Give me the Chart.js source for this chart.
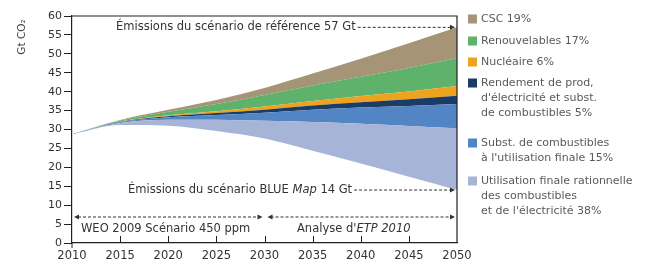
<!DOCTYPE html>
<html>
<head>
<meta charset="utf-8">
<script src="https://cdn.jsdelivr.net/npm/chart.js@4.4.1/dist/chart.umd.min.js"></script>
<style>
html,body{margin:0;padding:0;background:#fff;}
canvas{display:block;}
</style>
</head>
<body>
<canvas id="c" width="653" height="270"></canvas>
<script>
const years = [2010, 2015, 2020, 2025, 2030, 2035, 2040, 2045, 2050];
const blueMap = [28.8, 31.2, 31.0, 29.6, 27.6, 24.4, 21.0, 17.5, 14.0];
const utilisation = [0, 0.55, 1.6, 2.95, 4.7, 7.55, 10.5, 13.4, 16.3];
const substitution = [0, 0.2, 0.67, 1.31, 2.15, 3.26, 4.3, 5.3, 6.45];
const rendement = [0, 0.07, 0.25, 0.49, 0.8, 1.12, 1.4, 1.77, 2.15];
const nucleaire = [0, 0.07, 0.25, 0.49, 0.8, 1.22, 1.65, 2.1, 2.6];
const renouvelables = [0, 0.28, 0.92, 1.89, 3.08, 4.08, 5.1, 6.2, 7.3];
const csc = [0, 0.13, 0.5, 1.07, 1.87, 3.16, 4.75, 6.53, 8.2];

const referenceTotal = 57;
const blueMapTotal = 14;
const periodSplit = 2030;

const legendItems = [
  {lines: ['CSC 19%'], color: '#a59475'},
  {lines: ['Renouvelables 17%'], color: '#5eb26c'},
  {lines: ['Nucléaire 6%'], color: '#eea31f'},
  {lines: ['Rendement de prod,', "d'électricité et subst.", 'de combustibles 5%'], color: '#1c3b66'},
  {lines: ['Subst. de combustibles', "à l'utilisation finale 15%"], color: '#5185c4'},
  {lines: ['Utilisation finale rationnelle', 'des combustibles', "et de l'électricité 38%"], color: '#a6b4d8'}
];
const legendTop = [19, 41, 62, 83, 143, 181];

function pts(arr){ return years.map((y,i)=>({x:y, y:arr[i]})); }

function layer(label, arr, color){
  return {label, data: pts(arr), backgroundColor: color, borderColor: color, borderWidth: 0,
    fill: '-1', pointRadius: 0, cubicInterpolationMode: 'monotone'};
}

const FONT = '"DejaVu Sans", sans-serif';

function arrowHead(ctx, x, y, dir){
  ctx.beginPath();
  ctx.moveTo(x, y);
  ctx.lineTo(x - 5*dir, y - 2.5);
  ctx.lineTo(x - 5*dir, y + 2.5);
  ctx.closePath();
  ctx.fill();
}
function dashed(ctx, x1, x2, y){
  ctx.save();
  ctx.setLineDash([3,2]);
  ctx.beginPath();
  ctx.moveTo(x1, y); ctx.lineTo(x2, y);
  ctx.stroke();
  ctx.restore();
}

const deco = {
  id: 'deco',
  afterDraw(chart){
    const ctx = chart.ctx, a = chart.chartArea, xs = chart.scales.x, ys = chart.scales.y;
    ctx.save();
    // frame
    ctx.strokeStyle = '#222'; ctx.lineWidth = 1.2;
    ctx.beginPath();
    ctx.moveTo(a.left, a.top); ctx.lineTo(a.right, a.top); ctx.lineTo(a.right, a.bottom);
    ctx.stroke();
    // inside x ticks
    ctx.lineWidth = 1;
    for (let yr = 2015; yr < 2050; yr += 5){
      const px = Math.round(xs.getPixelForValue(yr)) + 0.5;
      ctx.beginPath(); ctx.moveTo(px, a.bottom); ctx.lineTo(px, a.bottom - 7); ctx.stroke();
    }
    ctx.beginPath(); ctx.moveTo(a.left, a.bottom); ctx.lineTo(a.left, a.bottom + 5); ctx.stroke();

    ctx.fillStyle = '#333'; ctx.strokeStyle = '#333';
    ctx.textBaseline = 'middle';
    const AF = '11.5px ' + FONT, AFI = 'italic 11.5px ' + FONT;
    ctx.font = AF;
    // reference annotation
    const x50 = xs.getPixelForValue(2050) - 2;
    const yRef = ys.getPixelForValue(referenceTotal);
    ctx.textAlign = 'left';
    const t1 = 'Émissions du scénario de référence 57 Gt';
    ctx.fillText(t1, 116, yRef);
    const w1 = ctx.measureText(t1).width;
    dashed(ctx, 116 + w1 + 2, x50 - 4, yRef);
    arrowHead(ctx, x50, yRef, 1);
    // BLUE Map annotation
    const yBlue = ys.getPixelForValue(blueMapTotal);
    let tx = 128;
    const p1 = 'Émissions du scénario BLUE ';
    ctx.fillText(p1, tx, yBlue); tx += ctx.measureText(p1).width;
    ctx.font = AFI;
    ctx.fillText('Map', tx, yBlue); tx += ctx.measureText('Map').width;
    ctx.font = AF;
    ctx.fillText(' 14 Gt', tx, yBlue); tx += ctx.measureText(' 14 Gt').width;
    dashed(ctx, tx + 2, x50 - 4, yBlue);
    arrowHead(ctx, x50, yBlue, 1);
    // period arrows
    const yP = 217;
    const xL = a.left + 2, xM = xs.getPixelForValue(periodSplit);
    dashed(ctx, xL + 4, xM - 6, yP);
    arrowHead(ctx, xL, yP, -1);
    arrowHead(ctx, xM - 2, yP, 1);
    dashed(ctx, xM + 6, x50 - 4, yP);
    arrowHead(ctx, xM + 3, yP, -1);
    arrowHead(ctx, x50, yP, 1);
    ctx.fillText('WEO 2009 Scénario 450 ppm', 81, 229);
    let ax = 297;
    ctx.fillText("Analyse d'", ax, 229); ax += ctx.measureText("Analyse d'").width;
    ctx.font = AFI;
    ctx.fillText('ETP 2010', ax, 229);
    // y title
    ctx.save();
    ctx.translate(22, 37);
    ctx.rotate(-Math.PI/2);
    ctx.textAlign = 'center';
    ctx.font = '10.5px ' + FONT;
    ctx.fillStyle = '#444';
    ctx.fillText('Gt CO₂', 0, 0);
    ctx.restore();
    // legend
    ctx.font = '11px ' + FONT;
    ctx.textAlign = 'left';
    legendItems.forEach((it, i) => {
      const top = legendTop[i];
      ctx.fillStyle = it.color;
      ctx.fillRect(468, top - 4.5, 9, 9);
      ctx.fillStyle = '#5a5a5a';
      it.lines.forEach((ln, j) => ctx.fillText(ln, 481, top + j*15));
    });
    ctx.restore();
  }
};

new Chart(document.getElementById('c'), {
  type: 'line',
  data: {
    datasets: [
      {label: 'BLUE Map', data: pts(blueMap), borderWidth: 0, borderColor: 'rgba(0,0,0,0)', backgroundColor: 'rgba(0,0,0,0)', fill: false, pointRadius: 0, cubicInterpolationMode: 'monotone'},
      layer('Utilisation finale rationnelle', utilisation, legendItems[5].color),
      layer('Subst. de combustibles', substitution, legendItems[4].color),
      layer('Rendement', rendement, legendItems[3].color),
      layer('Nucléaire', nucleaire, legendItems[2].color),
      layer('Renouvelables', renouvelables, legendItems[1].color),
      layer('CSC', csc, legendItems[0].color)
    ]
  },
  options: {
    responsive: false,
    devicePixelRatio: 1,
    animation: false,
    layout: {padding: {left: 0, right: 196, top: 16, bottom: 0}},
    plugins: {legend: {display: false}, tooltip: {enabled: false}},
    scales: {
      x: {
        type: 'linear', min: 2010, max: 2050,
        ticks: {stepSize: 5, color: '#333', font: {family: FONT, size: 11.5}, padding: 6, callback: v => String(v)},
        grid: {display: false, drawTicks: false},
        border: {display: true, color: '#222', width: 1.2},
        afterFit(s){ s.height = 27; }
      },
      y: {
        stacked: true, min: 0, max: 60,
        ticks: {stepSize: 5, color: '#333', font: {family: FONT, size: 11}, padding: 2},
        grid: {display: true, drawOnChartArea: false, drawTicks: true, tickLength: 8, color: '#222'},
        border: {display: true, color: '#222', width: 1.2},
        afterFit(s){ s.width = 72; }
      }
    }
  },
  plugins: [deco]
});
</script>
</body>
</html>
